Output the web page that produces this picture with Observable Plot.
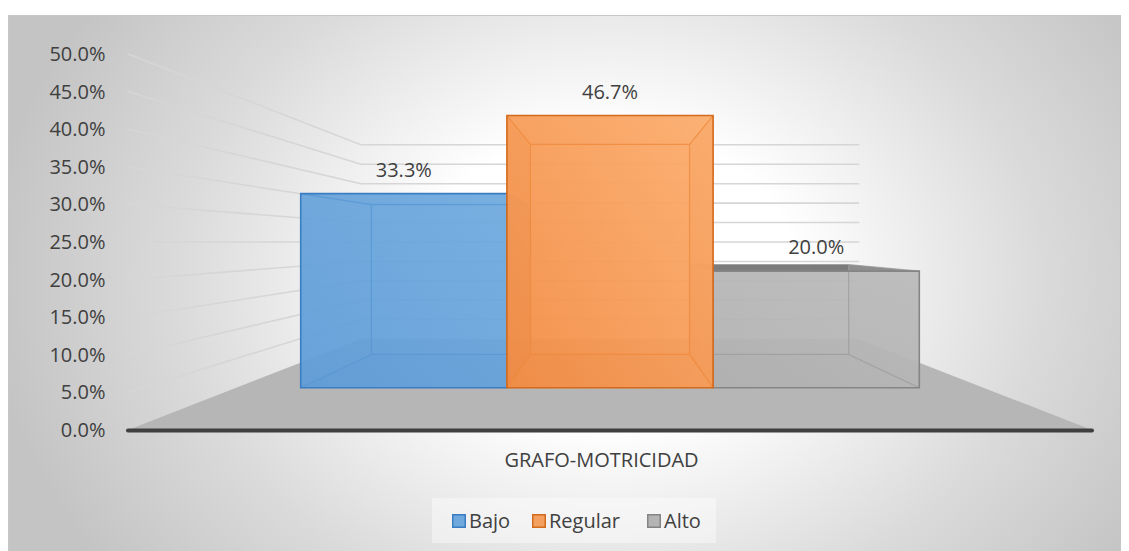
<!DOCTYPE html>
<html>
<head>
<meta charset="utf-8">
<script src="https://cdn.jsdelivr.net/npm/d3@7"></script>
<script src="https://cdn.jsdelivr.net/npm/@observablehq/plot@0.6"></script>
<style>
  html, body { margin: 0; padding: 0; background: #ffffff; }
  #wrap { position: relative; width: 1129px; height: 551px; overflow: hidden; background: #ffffff; }
  #bg {
    position: absolute; left: 8px; top: 15px; width: 1113px; height: 560px;
    box-sizing: border-box; border: 1px solid #c6c6c6;
    background: radial-gradient(ellipse 56% 88% at 54% 47%, #ffffff 0%, #ffffff 30%, #dadada 70%, #c4c4c4 100%);
  }
  #chart { position: absolute; left: 0; top: 0; }
  #chart svg { background: transparent; }
</style>
</head>
<body>
<div id="wrap"><div id="bg"></div><div id="chart"></div></div>
<script>
// ---- data ----
const category = ["GRAFO-MOTRICIDAD"];
const series = ["Bajo", "Regular", "Alto"];
const values = [0.333, 0.467, 0.200];
const yTicks = [0, 0.05, 0.10, 0.15, 0.20, 0.25, 0.30, 0.35, 0.40, 0.45, 0.50];

// ---- styles ----
const palette = {
  Bajo:    {front: ["#5f9dd7", "#70aadf"], frontOp: 0.9, back: "#6aa5db", backOp: 0.4, side: "#5b9bd5", sideOp: 0.35,
            top: "#5b9bd5", topOp: 0.35, bottom: "#3f7fc0", bottomOp: 0.45, stroke: "#3a7dc3", edge: "#5797d3",
            swatch: "#6fa8dc"},
  Regular: {front: ["#f28c44", "#fcae6f"], frontOp: 0.92, back: "#f8a25f", backOp: 0.4, side: "#d26c26", sideOp: 0.65,
            top: "#f59a55", topOp: 0.4, bottom: "#d9752f", bottomOp: 0.5, stroke: "#d46a1c", edge: "#ef8a3c",
            swatch: "#f4a060"},
  Alto:    {front: ["#b1b1b1", "#bbbbbb"], frontOp: 0.9, back: "#b5b5b5", backOp: 0.4, side: "#a5a5a5", sideOp: 0.4,
            top: "#6a6a6a", topOp: 0.85, bottom: "#999999", bottomOp: 0.45, stroke: "#858585", edge: "#9c9c9c",
            swatch: "#b4b4b4"}
};
const textColor = "#404040";
const fontFamily = "'Open Sans', sans-serif";

// ---- 3D layout constants ----
const eyeLevel = 0.25;      // value level of the vanishing point
const depthFront = 0.775;   // perspective factor of bar front faces
const depthBack = 0.598;    // perspective factor of bar back faces
const depthWall = 0.517;    // perspective factor of back wall
const groupInset = 0.086;   // gap on each side of the bar group

const fmt = d3.format(".1%");

function geometry(x, y) {
  const bw = x.bandwidth();
  const xa = x(category[0]), xb = xa + bw;
  const vx = xa + bw / 2, vy = y(eyeLevel);
  const P = (px, py, s) => [vx + s * (px - vx), vy + s * (py - vy)];
  return {bw, xa, xb, vx, vy, P};
}
const poly = (pts) => "M" + pts.map(p => p.join(",")).join("L") + "Z";
const line = (pts) => "M" + pts.map(p => p.join(",")).join("L");

function walls(index, scales) {
  const {x, y} = scales;
  const {xa, xb, P} = geometry(x, y);
  const g = d3.create("svg:g");
  const y0 = y(0);
  for (const t of yTicks) {
    if (t === 0) continue;
    const yy = y(t);
    g.append("path")
      .attr("d", line([P(xa, yy, 1), P(xa, yy, depthWall), P(xb, yy, depthWall)]))
      .attr("fill", "none").attr("stroke", "#d6d6d6").attr("stroke-width", 1.6);
  }
  g.append("path")
    .attr("d", poly([P(xa, y0, 1), P(xb, y0, 1), P(xb, y0, depthWall), P(xa, y0, depthWall)]))
    .attr("fill", "#b6b6b6");
  return g.node();
}

function bars(index, scales) {
  const {x, y} = scales;
  const {bw, xa, xb, vx, P} = geometry(x, y);
  const inner = d3.scaleBand().domain(series).range([xa + bw * groupInset, xb - bw * groupInset]).padding(0);
  const g = d3.create("svg:g");
  const defs = g.append("defs");
  series.forEach((s, i) => {
    const st = palette[s];
    const lg = defs.append("linearGradient").attr("id", "front-grad-" + i)
      .attr("x1", 0).attr("y1", 1).attr("x2", 1).attr("y2", 0);
    lg.append("stop").attr("offset", 0).attr("stop-color", st.front[0]);
    lg.append("stop").attr("offset", 1).attr("stop-color", st.front[1]);
  });
  const order = d3.sort(d3.range(series.length),
    i => -Math.abs(inner(series[i]) + inner.bandwidth() / 2 - vx));
  const labelPos = [];
  for (const i of order) {
    const s = series[i], st = palette[s];
    const xl = inner(s), xr = xl + inner.bandwidth();
    const yb = y(0), yt = y(values[i]);
    const F = [P(xl, yb, depthFront), P(xr, yb, depthFront), P(xr, yt, depthFront), P(xl, yt, depthFront)];
    const B = [P(xl, yb, depthBack), P(xr, yb, depthBack), P(xr, yt, depthBack), P(xl, yt, depthBack)];
    const bar = g.append("g");
    const face = (pts, fill, op) => bar.append("path").attr("d", poly(pts)).attr("fill", fill).attr("fill-opacity", op);
    face(B, st.back, st.backOp);
    face([F[0], F[1], B[1], B[0]], st.bottom, st.bottomOp);
    face([F[3], F[2], B[2], B[3]], st.top, st.topOp);
    face([F[0], B[0], B[3], F[3]], st.side, st.sideOp);
    face([F[1], B[1], B[2], F[2]], st.side, st.sideOp);
    face(F, `url(#front-grad-${i})`, st.frontOp);
    bar.append("path")
      .attr("d", poly(B) + line([F[0], B[0]]) + line([F[1], B[1]]) + line([F[2], B[2]]) + line([F[3], B[3]]))
      .attr("fill", "none").attr("stroke", st.edge).attr("stroke-width", 1.2).attr("stroke-opacity", 0.8);
    bar.append("path").attr("d", poly(F))
      .attr("fill", "none").attr("stroke", st.stroke).attr("stroke-width", 1.6);
    labelPos[i] = [(F[2][0] + F[3][0]) / 2, F[3][1]];
  }
  series.forEach((s, i) => {
    g.append("text")
      .attr("x", labelPos[i][0]).attr("y", labelPos[i][1] - 24).attr("dy", "0.35em")
      .attr("text-anchor", "middle").attr("fill", textColor)
      .style("font-family", fontFamily).style("font-size", "20px")
      .text(fmt(values[i]));
  });
  return g.node();
}

function legend() {
  const g = d3.create("svg:g").attr("text-anchor", "start");
  g.append("rect").attr("x", 432).attr("y", 498).attr("width", 284).attr("height", 45)
    .attr("fill", "#ffffff").attr("fill-opacity", 0.4);
  const itemX = [452, 532, 647];
  series.forEach((s, i) => {
    const st = palette[s];
    g.append("rect").attr("x", itemX[i] + 0.75).attr("y", 514.75).attr("width", 12.5).attr("height", 12.5)
      .attr("fill", st.swatch).attr("stroke", st.stroke).attr("stroke-width", 1.5);
    g.append("text").attr("x", itemX[i] + 17).attr("y", 521).attr("dy", "0.35em")
      .attr("text-anchor", "start")
      .attr("fill", textColor).style("font-family", fontFamily).style("font-size", "20px")
      .text(s);
  });
  return g.node();
}

const chart = Plot.plot({
  width: 1129,
  height: 551,
  marginTop: 54,
  marginBottom: 121,
  marginLeft: 128,
  marginRight: 37,
  style: {background: "transparent", fontFamily: fontFamily, fontSize: "20px", color: textColor, overflow: "visible"},
  x: {type: "band", domain: category, padding: 0, axis: null, label: null},
  y: {domain: [0, 0.5], ticks: yTicks, tickFormat: fmt, tickSize: 0, tickPadding: 23, label: null},
  marks: [
    walls,
    Plot.ruleX(category, {x: d => d, strokeOpacity: 0}),
    Plot.ruleY([0], {stroke: "#3f3f3f", strokeWidth: 4, strokeLinecap: "round"}),
    Plot.text(category, {x: d => d, text: d => d, frameAnchor: "bottom", dy: 36, dx: -9,
                         fill: textColor, fontSize: 20, fontFamily: fontFamily}),
    bars,
    legend
  ]
});
document.getElementById("chart").append(chart);
</script>
</body>
</html>
